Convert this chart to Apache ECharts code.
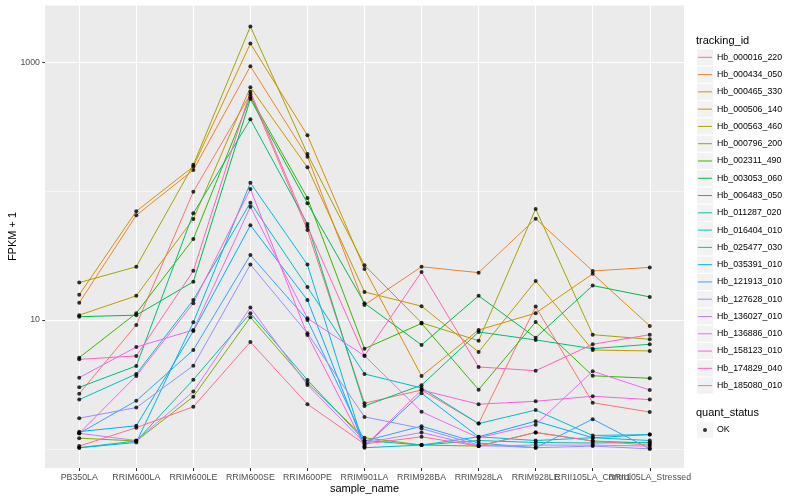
<!DOCTYPE html>
<html>
<head>
<meta charset="utf-8">
<script src="https://cdn.jsdelivr.net/npm/echarts@6.0.0/dist/echarts.min.js"></script>
<style>
  html, body { margin: 0; padding: 0; background: #ffffff; }
  #chart { width: 800px; height: 500px; }
</style>
</head>
<body>
<div id="chart"></div>
<script>
// ---- data ----
const categories = ['PB350LA', 'RRIM600LA', 'RRIM600LE', 'RRIM600SE', 'RRIM600PE', 'RRIM901LA',
  'RRIM928BA', 'RRIM928LA', 'RRIM928LE', 'RRII105LA_Control', 'RRII105LA_Stressed'];

const trackingIds = ['Hb_000016_220', 'Hb_000434_050', 'Hb_000465_330', 'Hb_000506_140', 'Hb_000563_460',
  'Hb_000796_200', 'Hb_002311_490', 'Hb_003053_060', 'Hb_006483_050', 'Hb_011287_020',
  'Hb_016404_010', 'Hb_025477_030', 'Hb_035391_010', 'Hb_121913_010', 'Hb_127628_010',
  'Hb_136027_010', 'Hb_136886_010', 'Hb_158123_010', 'Hb_174829_040', 'Hb_185080_010'];

const quantStatus = ['OK'];

// FPKM + 1 per sample (order of categories)
const hb_000016_220 = [2.68, 9.15, 99, 565, 49.9, 2.26, 2.86, 1.57, 12.7, 2.28, 1.93];
const hb_000434_050 = [13.6, 64.9, 146, 931, 185, 13.1, 25.9, 23.3, 61.1, 24.0, 25.6];
const hb_000465_330 = [15.7, 69.8, 155, 1400, 271, 24.9, 3.68, 8.36, 11.3, 22.8, 9.0];
const hb_000506_140 = [10.9, 15.4, 60.8, 640, 153, 16.5, 12.8, 5.64, 20.1, 5.85, 5.75];
const hb_000563_460 = [19.5, 25.9, 160, 1900, 194, 26.6, 9.5, 6.91, 72.7, 7.69, 7.08];
const hb_000796_200 = [1.21, 1.15, 2.54, 10.5, 3.24, 1.22, 1.07, 1.05, 1.34, 1.15, 1.11];
const hb_002311_490 = [5.10, 11.3, 42.5, 538, 88.5, 5.99, 9.4, 2.88, 9.65, 3.69, 3.53];
const hb_003053_060 = [10.6, 10.9, 19.8, 519, 80.5, 13.5, 6.4, 15.4, 7.29, 18.5, 15.1];
const hb_006483_050 = [3.0, 4.4, 67.3, 361, 55.6, 2.15, 3.12, 8.07, 7.0, 5.99, 6.48];
const hb_011287_020 = [1.02, 1.15, 3.44, 11.3, 3.42, 1.16, 1.07, 1.16, 1.12, 1.11, 1.12];
const hb_016404_010 = [2.41, 3.81, 14.3, 81.4, 18.0, 3.81, 2.97, 1.57, 2.0, 1.27, 1.29];
const hb_025477_030 = [1.02, 1.12, 9.6, 116, 26.9, 1.02, 1.07, 1.24, 1.16, 1.22, 1.16];
const hb_035391_010 = [1.36, 1.51, 8.2, 54.3, 14.3, 1.04, 2.70, 1.24, 1.64, 1.22, 1.29];
const hb_121913_010 = [1.32, 2.36, 5.85, 31.9, 10.0, 1.15, 1.50, 1.11, 1.02, 1.70, 1.0];
const hb_127628_010 = [1.73, 2.09, 4.42, 26.9, 7.89, 1.77, 1.44, 1.07, 1.02, 1.05, 1.0];
const hb_136027_010 = [1.32, 1.16, 2.78, 12.5, 3.13, 1.11, 1.34, 1.05, 1.07, 1.07, 1.05];
const hb_136886_010 = [3.57, 6.17, 8.36, 75.7, 10.3, 5.28, 1.94, 1.22, 1.54, 4.0, 2.86];
const hb_158123_010 = [1.32, 3.68, 13.5, 104, 7.65, 1.05, 2.86, 2.22, 2.34, 2.56, 2.41];
const hb_174829_040 = [4.95, 5.26, 24.1, 591, 53.0, 5.28, 23.6, 4.32, 4.04, 6.48, 7.69];
const hb_185080_010 = [1.05, 1.46, 2.12, 6.75, 2.22, 1.09, 1.24, 1.05, 1.34, 1.15, 1.07];

const yTickLabels = [10, 1000];

const seriesValues = [hb_000016_220, hb_000434_050, hb_000465_330, hb_000506_140, hb_000563_460,
  hb_000796_200, hb_002311_490, hb_003053_060, hb_006483_050, hb_011287_020,
  hb_016404_010, hb_025477_030, hb_035391_010, hb_121913_010, hb_127628_010,
  hb_136027_010, hb_136886_010, hb_158123_010, hb_174829_040, hb_185080_010];

// ---- style ----
const palette = ['#F8766D', '#EA8331', '#D89000', '#C09B00', '#A3A500', '#7CAE00', '#39B600', '#00BB4E',
  '#00BF7D', '#00C1A3', '#00BFC4', '#00BAE0', '#00B0F6', '#35A2FF', '#9590FF', '#C77CFF',
  '#E76BF3', '#FA62DB', '#FF62BC', '#FF6C91'];
const FONT = '"Liberation Sans", Arial, Helvetica, sans-serif';
const catIndex = categories.map((c, i) => i);
const evenIdx = catIndex.filter(i => i % 2 === 0);
const oddIdx = catIndex.filter(i => i % 2 === 1);

const lineSeries = trackingIds.map((id, k) => ({
  name: id,
  type: 'line',
  color: palette[k],
  xAxisIndex: 0,
  yAxisIndex: 0,
  data: seriesValues[k].map((v, i) => [i, v]),
  showSymbol: false,
  symbol: 'none',
  lineStyle: { width: 1, color: palette[k] },
  silent: true,
  z: 2
}));

const pointData = [];
seriesValues.forEach(arr => arr.forEach((v, i) => pointData.push([i, v])));

const chart = echarts.init(document.getElementById('chart'), null, { renderer: 'canvas' });

const isMajor = v => {
  const e = Math.log10(v);
  return Math.abs(e - 1) < 1e-6 || Math.abs(e - 3) < 1e-6;
};

const xLabelStyle = { formatter: v => categories[Math.round(v)], color: '#4D4D4D',
  fontSize: 8.8, margin: 5, fontFamily: FONT, hideOverlap: false, showMinLabel: true, showMaxLabel: true };

const option = {
  animation: false,
  textStyle: { fontFamily: FONT },
  title: [
    { text: 'tracking_id', left: 696, top: 34.5, padding: 0,
      textStyle: { fontSize: 11, fontWeight: 'normal', color: '#000', lineHeight: 12, fontFamily: FONT } },
    { text: 'quant_status', left: 696, top: 406.5, padding: 0,
      textStyle: { fontSize: 11, fontWeight: 'normal', color: '#000', lineHeight: 12, fontFamily: FONT } }
  ],
  grid: { left: 45, right: 116, top: 5, bottom: 32, show: true, backgroundColor: '#EBEBEB', borderWidth: 0,
    outerBoundsMode: 'none', containLabel: false },
  xAxis: [
    {
      type: 'value', min: -0.6, max: 10.6, position: 'bottom',
      axisLine: { show: false, onZero: false },
      axisTick: { show: true, length: 3, lineStyle: { color: '#333333', width: 1 }, customValues: catIndex },
      axisLabel: Object.assign({ customValues: evenIdx }, xLabelStyle),
      splitLine: { show: true, lineStyle: { color: '#FFFFFF', width: 1.1 } },
      name: 'sample_name', nameLocation: 'middle', nameGap: 15, nameMoveOverlap: false,
      nameTextStyle: { color: '#000', fontSize: 11, fontFamily: FONT }
    },
    {
      type: 'value', min: -0.6, max: 10.6, position: 'bottom', offset: 0,
      axisLine: { show: false, onZero: false },
      axisTick: { show: false, customValues: oddIdx },
      axisLabel: Object.assign({ customValues: oddIdx }, xLabelStyle),
      splitLine: { show: false }
    }
  ],
  yAxis: [
    {
      type: 'log', logBase: 10, min: 0.71, max: 2784,
      axisLine: { show: false, onZero: false },
      axisTick: { show: true, length: 2.7, lineStyle: { color: '#333333', width: 1 }, customValues: yTickLabels },
      axisLabel: { customValues: yTickLabels, formatter: v => (isMajor(v) ? String(Math.round(v)) : ''),
        color: '#4D4D4D', fontSize: 8.8, margin: 5, fontFamily: FONT },
      splitLine: { show: true, lineStyle: { color: '#FFFFFF', width: 1.1 } },
      name: 'FPKM + 1', nameLocation: 'middle', nameGap: 27, nameMoveOverlap: false,
      nameTextStyle: { color: '#000', fontSize: 11, fontFamily: FONT }
    },
    {
      type: 'log', logBase: 10, min: 0.71, max: 2784, position: 'left',
      axisLine: { show: false, onZero: false }, axisTick: { show: false }, axisLabel: { show: false },
      splitLine: { show: true, lineStyle: { color: '#FFFFFF', width: 0.55 } }
    }
  ],
  legend: [
    { id: 'keyBg', data: trackingIds, orient: 'vertical', left: 697, top: 49.3, padding: 0,
      itemGap: 1.28, itemWidth: 16, itemHeight: 16, icon: 'rect', selectedMode: false,
      itemStyle: { color: '#F2F2F2', borderWidth: 0 },
      textStyle: { color: 'rgba(0,0,0,0)', fontSize: 8.8, lineHeight: 16, fontFamily: FONT }, z: 3 },
    { id: 'keyLine', data: trackingIds, orient: 'vertical', left: 698, top: 49.3, padding: 0,
      itemGap: 1.28, itemWidth: 14, itemHeight: 1, icon: 'rect', selectedMode: false,
      itemStyle: { borderWidth: 0 },
      textStyle: { color: '#000', fontSize: 8.8, lineHeight: 16, fontFamily: FONT }, z: 4 },
    { id: 'okBg', data: quantStatus, orient: 'vertical', left: 697, top: 422, padding: 0,
      itemWidth: 16, itemHeight: 16, icon: 'rect', selectedMode: false,
      itemStyle: { color: '#F2F2F2', borderWidth: 0 },
      textStyle: { color: 'rgba(0,0,0,0)', fontSize: 8.8, lineHeight: 16, fontFamily: FONT }, z: 3 },
    { id: 'okKey', data: quantStatus, orient: 'vertical', left: 703, top: 422, padding: 0,
      itemWidth: 4, itemHeight: 4, icon: 'circle', selectedMode: false,
      itemStyle: { color: '#000', borderWidth: 0 },
      textStyle: { color: '#000', fontSize: 8.8, lineHeight: 16, padding: [0, 0, 0, 5], fontFamily: FONT }, z: 4 }
  ],
  series: lineSeries.concat([{
    name: quantStatus[0],
    type: 'scatter',
    xAxisIndex: 0,
    yAxisIndex: 0,
    data: pointData,
    symbol: 'circle',
    symbolSize: 4,
    itemStyle: { color: '#000000' },
    silent: true,
    z: 5
  }])
};

chart.setOption(option);
</script>
</body>
</html>
